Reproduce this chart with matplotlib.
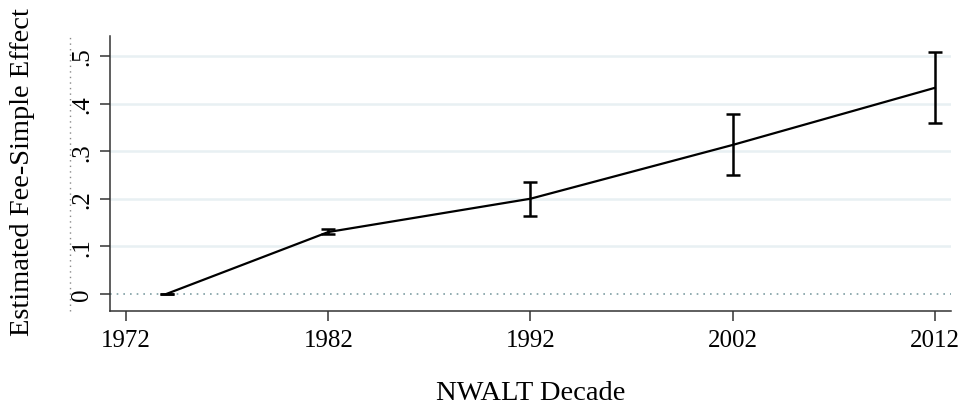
import matplotlib.pyplot as plt
from matplotlib.lines import Line2D

plt.rcParams['font.family'] = ['Liberation Serif', 'DejaVu Serif']

years = [1974, 1982, 1992, 2002, 2012]
effect = [0.0, 0.130, 0.200, 0.313, 0.433]
ci_low = [0.0, 0.125, 0.164, 0.249, 0.359]
ci_high = [0.0, 0.136, 0.235, 0.377, 0.509]
xticks = [1972, 1982, 1992, 2002, 2012]
yticks = [0, 0.1, 0.2, 0.3, 0.4, 0.5]
ylabels = ['0', '.1', '.2', '.3', '.4', '.5']

fig = plt.figure(figsize=(9.63, 4.06), dpi=100)
ax = fig.add_axes([0.1142, 0.2315, 0.8733, 0.6774])

for t in yticks[1:]:
    ax.axhline(t, color='#e8f0f3', lw=1.8, zorder=0)
ax.axhline(0, color='#7f9ea3', lw=1.2, ls=(0, (1, 3)), zorder=1)

err = [[e - l for e, l in zip(effect, ci_low)], [h - e for e, h in zip(effect, ci_high)]]
ax.errorbar(years, effect, yerr=err, color='black', lw=1.6, elinewidth=1.8,
            capsize=5, capthick=1.8, zorder=3)

ax.set_xlim(1971.2, 2012.8)
ax.set_ylim(-0.036, 0.542)
ax.set_xticks(xticks)
ax.set_yticks(yticks)
ax.set_yticklabels(ylabels, rotation=90, va='center')
ax.tick_params(labelsize=18, length=7, width=1.1, color='#333333')
ax.tick_params(axis='x', pad=6)
ax.tick_params(axis='y', pad=5)
for s in ['top', 'right']:
    ax.spines[s].set_visible(False)
for s in ['left', 'bottom']:
    ax.spines[s].set_color('#333333')
    ax.spines[s].set_linewidth(1.1)

ax.set_xlabel('NWALT Decade', fontsize=20.5, labelpad=21)
fig.text(0.023, 0.576, 'Estimated Fee-Simple Effect', rotation=90, fontsize=20.5,
         ha='center', va='center')
fig.add_artist(Line2D([0.0727, 0.0727], [0.2315, 0.9089], transform=fig.transFigure,
                      color='#888888', lw=1, ls=(0, (1, 3))))

fig.savefig('out.png', dpi=100)
